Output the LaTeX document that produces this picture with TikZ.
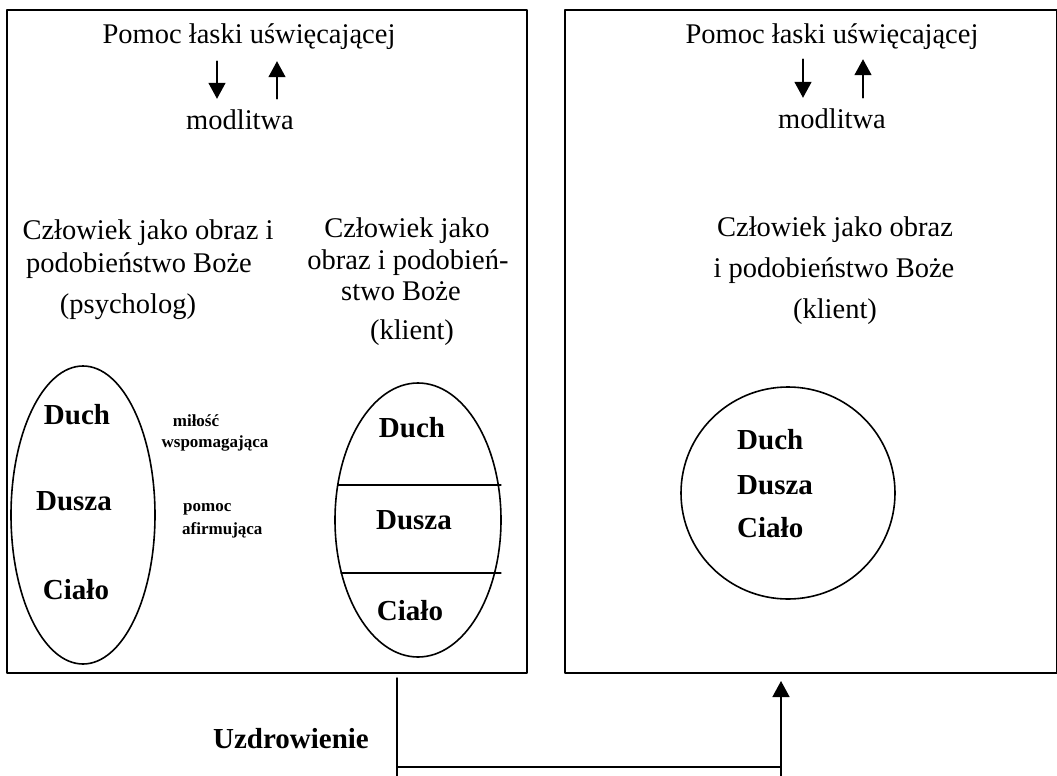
\documentclass[tikz,border=0pt]{standalone}
\usepackage{fontspec}
\setmainfont{Liberation Serif}
\usepackage{tikz}
\usetikzlibrary{shapes.geometric,arrows.meta}
\tikzset{>={Triangle[length=16pt,width=17pt]}}

\begin{document}
\begin{tikzpicture}[line cap=round,line join=round,x=1pt,y=-1pt,
		txt/.style={font=\fontsize{28.5}{32}\selectfont,inner sep=0pt,text height=20pt,text depth=6pt},
		bld/.style={font=\fontsize{29}{32}\selectfont\bfseries,inner sep=0pt,text height=20pt,text depth=6pt},
		sml/.style={font=\fontsize{17}{20}\selectfont\bfseries,inner sep=0pt,text height=12pt,text depth=4pt},
		frame/.style={draw,line width=1.6pt,inner sep=0pt},
		oval/.style={draw,ellipse,line width=1.6pt,inner sep=0pt},
		conn/.style={line width=1.5pt}]
			\useasboundingbox (0,0) rectangle (1057,776);
			\node[frame,minimum width=520pt,minimum height=663pt] (lbox) at (267,341.5) {};
			\node[frame,minimum width=492pt,minimum height=663pt] (rbox) at (811,341.5) {};
			\node[txt] (pom1) at (249,37) {Pomoc łaski uświęcającej};
			\node[txt] (mod1) at (240,122) {modlitwa};
			\node[txt] (pom2) at (832,37) {Pomoc łaski uświęcającej};
			\node[txt] (mod2) at (832,121) {modlitwa};
			\path (217,0) coordinate (xl1) (277,0) coordinate (xl2) (803,0) coordinate (xr1) (863,0) coordinate (xr2);
			\draw[conn,->,shorten <=11pt,shorten >=10pt] (pom1.south -| xl1) -- (mod1.north -| xl1);
			\draw[conn,->,shorten <=10pt,shorten >=11pt] (mod1.north -| xl2) -- (pom1.south -| xl2);
			\draw[conn,->,shorten <=9pt,shorten >=10pt] (pom2.south -| xr1) -- (mod2.north -| xr1);
			\draw[conn,->,shorten <=10pt,shorten >=9pt] (mod2.north -| xr2) -- (pom2.south -| xr2);
			\node[txt] (psy1) at (148,232) {Człowiek jako obraz i};
			\node[txt] (psy2) at (139,265) {podobieństwo Boże};
			\node[txt] (psy3) at (128,306) {(psycholog)};
			\node[txt] (kl1) at (407,230) {Człowiek jako};
			\node[txt] (kl2) at (408,262) {obraz i podobień-};
			\node[txt] (kl3) at (401,293) {stwo Boże};
			\node[txt] (kl4) at (412,332) {(klient)};
			\node[txt] (kr1) at (835,229) {Człowiek jako obraz};
			\node[txt] (kr2) at (834,270) {i podobieństwo Boże};
			\node[txt] (kr3) at (835,311) {(klient)};
			\node[oval,minimum width=144pt,minimum height=298pt] (psy) at (83,515) {};
			\node[oval,minimum width=166pt,minimum height=274pt] (kli) at (418,520) {};
			\node[oval,minimum width=214pt,minimum height=212pt] (odn) at (788,493) {};
			\draw[line width=1.1pt] (338,485) -- (501,485);
			\draw[line width=1.1pt] (341,573) -- (501,573);
			\node[bld] (psyd) at (77,417) {Duch};
			\node[bld] (psyu) at (74,503) {Dusza};
			\node[bld] (psyc) at (76,592) {Ciało};
			\node[bld] (klid) at (412,430) {Duch};
			\node[bld] (kliu) at (414,522) {Dusza};
			\node[bld] (klic) at (410,613) {Ciało};
			\node[bld,anchor=west] (odnd) at (737,442) {Duch};
			\node[bld,anchor=west] (odnu) at (737,487) {Dusza};
			\node[bld,anchor=west] (odnc) at (737,530) {Ciało};
			\node[sml] (mil1) at (196,422) {miłość};
			\node[sml] (mil2) at (215,443) {wspomagająca};
			\node[sml,anchor=west] (afi1) at (183,507) {pomoc};
			\node[sml,anchor=west] (afi2) at (182,530) {afirmująca};
			\node[bld,anchor=east] (uzd) at (369,741) {Uzdrowienie};
			\coordinate (cstart) at (397,678);
			\coordinate (cend) at (781,681);
			\coordinate (cfoot) at (0,767);
			\draw[conn] (cstart) -- ++(0,98);
			\draw[conn] (cstart |- cfoot) -- (cend |- cfoot);
			\draw[conn,<-] (cend) -- ++(0,95);
\end{tikzpicture}
\end{document}
